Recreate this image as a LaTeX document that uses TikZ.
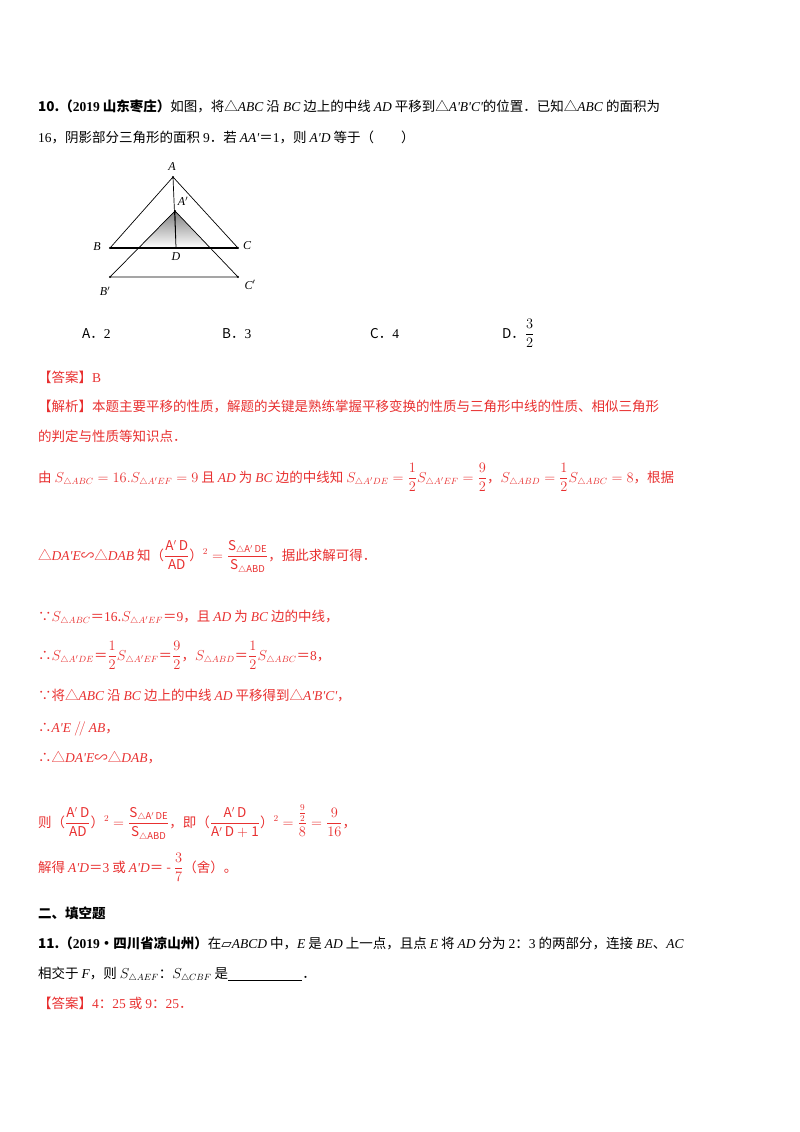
\documentclass[tikz,border=0pt]{standalone}
\usepackage{amsmath}
\usepackage{fontspec}
\setmainfont{Noto Sans CJK SC}
\newfontfamily\tr{Liberation Serif}
\newfontfamily\djvs{DejaVu Sans}
\newcommand{\I}[1]{{\tr\itshape #1}}
\newcommand{\R}[1]{{\tr #1}}
\definecolor{ansred}{RGB}{232,48,48}
\definecolor{shade}{RGB}{125,125,125}
\begin{document}
\begin{tikzpicture}[x=1pt,y=-1pt,
  txt/.style={anchor=base west,inner sep=0pt,font=\fontsize{13.5}{16}\selectfont},
  rtxt/.style={txt,text=ansred},
  lbl/.style={font=\tr\itshape\fontsize{12}{14}\selectfont,inner sep=1pt},
  seg/.style={line width=0.7pt}]
\useasboundingbox (0,0) rectangle (800,1132);
% Question 10
\node[txt] (q1) at (38,111) {\textbf{10.（\R{\bfseries 2019} 山东枣庄）}如图，将△\I{ABC} 沿 \I{BC} 边上的中线 \I{AD} 平移到△\I{A'B'C'}的位置．已知△\I{ABC} 的面积为};
\node[txt] (q2) at (38,142) {\R{16}，阴影部分三角形的面积 \R{9}．若 \I{AA'}＝\R{1}，则 \I{A'D} 等于（\quad\quad）};
% figure
\coordinate (A) at (173,177); \coordinate (Ap) at (175,211);
\coordinate (B) at (110,248); \coordinate (C) at (238,248);
\coordinate (D) at (176,248); \coordinate (Bp) at (110,277); \coordinate (Cp) at (238,277);
\coordinate (E) at (139,248); \coordinate (F) at (210,248);
\fill[shade] (Ap) -- (E) -- (F) -- cycle;
\draw[seg] (A) -- (B) (A) -- (C) (Ap) -- (Bp) (Ap) -- (Cp) (Bp) -- (Cp) (A) -- (D) (Ap) -- (D);
\draw[line width=1.1pt] (B) -- (C);
\foreach \p in {A,Ap,B,C,Bp,Cp} \fill (\p) circle (1.2pt);
\node[lbl] (lA) at (172,167) {A};
\node[lbl] (lAp) at (183,201) {A$'$};
\node[lbl] (lB) at (97,247) {B};
\node[lbl] (lC) at (247,246) {C};
\node[lbl] (lD) at (176,257) {D};
\node[lbl] (lBp) at (105,291) {B$'$};
\node[lbl] (lCp) at (250,285) {C$'$};
% options
\node[txt] (oA) at (82,338) {A．\R{2}};
\node[txt] (oB) at (222,338) {B．\R{3}};
\node[txt] (oC) at (370,338) {C．\R{4}};
\node[txt] (oD) at (502,338) {D．$\dfrac{3}{2}$};
% answer
\node[rtxt] (a1) at (38,382) {【答案】\R{B}};
\node[rtxt] (a2) at (38,411) {【解析】本题主要平移的性质，解题的关键是熟练掌握平移变换的性质与三角形中线的性质、相似三角形};
\node[rtxt] (a3) at (38,441) {的判定与性质等知识点．};
\node[rtxt] (a4) at (38,482) {由 $S_{\triangle ABC}=16.S_{\triangle A'EF}=9$ 且 \I{AD} 为 \I{BC} 边的中线知 $S_{\triangle A'DE}=\dfrac12S_{\triangle A'EF}=\dfrac92$，$S_{\triangle ABD}=\dfrac12S_{\triangle ABC}=8$，根据};
\node[rtxt] (a5) at (38,560) {△\I{DA'E}∽△\I{DAB} 知（$\dfrac{\mathrm{A'\,D}}{\mathrm{AD}}$）${}^2=\dfrac{\mathrm{S}_{\triangle\mathrm{A'\,DE}}}{\mathrm{S}_{\triangle\mathrm{ABD}}}$，据此求解可得．};
\node[rtxt] (a6) at (38,621) {∵$S_{\triangle ABC}$＝\R{16}.$S_{\triangle A'EF}$＝\R{9}，且 \I{AD} 为 \I{BC} 边的中线，};
\node[rtxt] (a7) at (38,660) {∴$S_{\triangle A'DE}$＝$\dfrac12S_{\triangle A'EF}$＝$\dfrac92$，$S_{\triangle ABD}$＝$\dfrac12S_{\triangle ABC}$＝\R{8}，};
\node[rtxt] (a8) at (38,700) {∵将△\I{ABC} 沿 \I{BC} 边上的中线 \I{AD} 平移得到△\I{A'B'C'}，};
\node[rtxt] (a9) at (38,732) {∴\I{A'E} $/\!/$ \I{AB}，};
\node[rtxt] (a10) at (38,762) {∴△\I{DA'E}∽△\I{DAB}，};
\node[rtxt] (a11) at (38,827) {则（$\dfrac{\mathrm{A'\,D}}{\mathrm{AD}}$）${}^2=\dfrac{\mathrm{S}_{\triangle\mathrm{A'\,DE}}}{\mathrm{S}_{\triangle\mathrm{ABD}}}$，即（$\dfrac{\mathrm{A'\,D}}{\mathrm{A'\,D+1}}$）${}^2=\dfrac{\frac{9}{2}}{8}=\dfrac{9}{16}$，};
\node[rtxt] (a12) at (38,872) {解得 \I{A'D}＝\R{3} 或 \I{A'D}＝ - $\dfrac37$（舍）。};
% Section 2
\node[txt] (s2) at (38,918) {\textbf{二、填空题}};
\node[txt] (q11) at (38,948) {\textbf{11.（\R{\bfseries 2019}•四川省凉山州）}在{\djvs ▱}\I{ABCD} 中，\I{E} 是 \I{AD} 上一点，且点 \I{E} 将 \I{AD} 分为 \R{2}：\R{3} 的两部分，连接 \I{BE}、\I{AC}};
\node[txt] (q11b) at (38,978) {相交于 \I{F}，则 $S_{\triangle AEF}$：$S_{\triangle CBF}$ 是\underline{\hspace{5.5em}}．};
\node[rtxt] (a13) at (38,1008) {【答案】\R{4}：\R{25} 或 \R{9}：\R{25}．};
\end{tikzpicture}
\end{document}
